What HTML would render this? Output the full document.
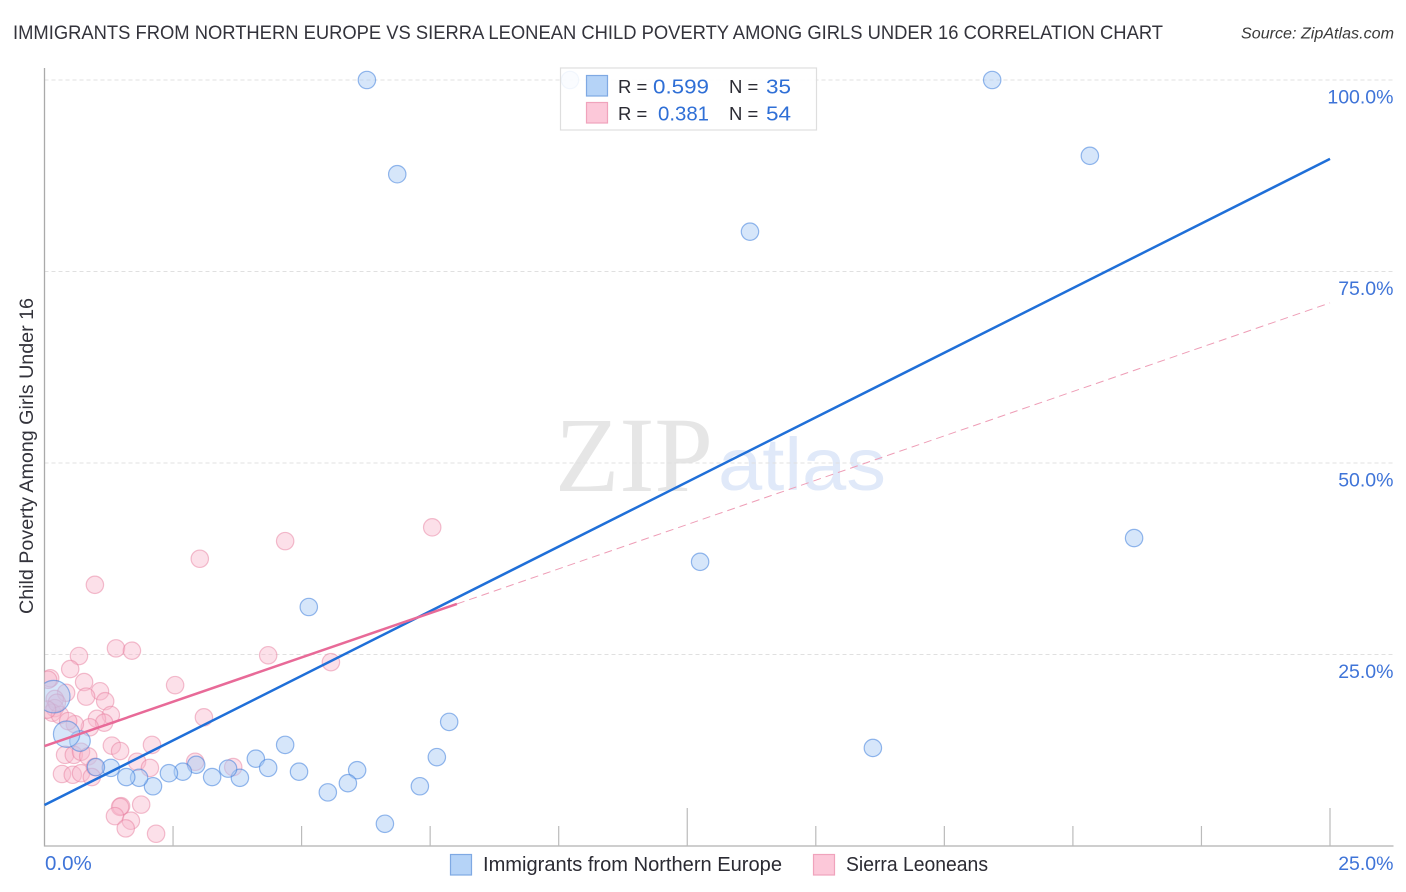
<!DOCTYPE html>
<html>
<head>
<meta charset="utf-8">
<title>Child Poverty Correlation Chart</title>
<style>
html,body{margin:0;padding:0;background:#fff;}
svg{display:block;font-family:"Liberation Sans",sans-serif;}
</style>
</head>
<body>
<svg id="chart" xmlns="http://www.w3.org/2000/svg" width="1406" height="892" viewBox="0 0 1406 892">
<defs><clipPath id="plot-clip"><rect x="44.5" y="60" width="1350" height="786"/></clipPath></defs>
<rect width="1406" height="892" fill="#fff"/>
<text x="13" y="39" font-size="19.5" fill="#33333b" textLength="1150" lengthAdjust="spacingAndGlyphs">IMMIGRANTS FROM NORTHERN EUROPE VS SIERRA LEONEAN CHILD POVERTY AMONG GIRLS UNDER 16 CORRELATION CHART</text>
<text x="1241" y="38.500" font-size="15.500" font-style="italic" fill="#3a3a3a" textLength="153" lengthAdjust="spacingAndGlyphs">Source: ZipAtlas.com</text>
<g>
<text x="555" y="491" font-family="'Liberation Serif',serif" font-size="107" fill="#e6e6e6" textLength="158" lengthAdjust="spacingAndGlyphs">ZIP</text>
<text x="718" y="490" font-family="'Liberation Sans',sans-serif" font-size="74" fill="#e0e9f9" textLength="168" lengthAdjust="spacingAndGlyphs">atlas</text>
</g>
<g id="grid"></g>
<g id="axes"></g>
<g id="pink-points" clip-path="url(#plot-clip)"></g>
<g id="blue-points" clip-path="url(#plot-clip)"></g>
<g id="trends"></g>
<g id="tick-labels"></g>
<text transform="translate(33,456) rotate(-90)" text-anchor="middle" font-size="19" fill="#33333b" textLength="316" lengthAdjust="spacingAndGlyphs">Child Poverty Among Girls Under 16</text>
<g>
<rect x="560.500" y="68" width="256" height="62" fill="#fff" fill-opacity="0.88" stroke="#dedede" stroke-width="1.200"/>
<rect x="586.500" y="75.500" width="21" height="20.500" fill="#b5d3f7" stroke="#7fa9e3" stroke-width="1.200"/>
<rect x="586.500" y="102.500" width="21" height="20.500" fill="#fcc8d9" stroke="#f0a3bc" stroke-width="1.200"/>
<g font-size="20">
<text x="618" y="93" fill="#2b2b33" font-size="18.500">R =</text>
<text x="653" y="93.500" fill="#2f6fd6" textLength="56" lengthAdjust="spacingAndGlyphs">0.599</text>
<text x="729" y="93" fill="#2b2b33" font-size="18.500">N =</text>
<text x="766" y="93.500" fill="#2f6fd6" textLength="25" lengthAdjust="spacingAndGlyphs">35</text>
<text x="618" y="120" fill="#2b2b33" font-size="18.500">R =</text>
<text x="658" y="120.500" fill="#2f6fd6" textLength="51" lengthAdjust="spacingAndGlyphs">0.381</text>
<text x="729" y="120" fill="#2b2b33" font-size="18.500">N =</text>
<text x="766" y="120.500" fill="#2f6fd6" textLength="25" lengthAdjust="spacingAndGlyphs">54</text>
</g>
</g>
<g>
<rect x="450.500" y="854.500" width="21" height="20.500" fill="#b5d3f7" stroke="#7fa9e3" stroke-width="1.200"/>
<text x="483" y="871" font-size="20" fill="#2b2b33" textLength="299" lengthAdjust="spacingAndGlyphs">Immigrants from Northern Europe</text>
<rect x="813.500" y="854.500" width="21" height="20.500" fill="#fcc8d9" stroke="#f0a3bc" stroke-width="1.200"/>
<text x="846" y="871" font-size="20" fill="#2b2b33" textLength="142" lengthAdjust="spacingAndGlyphs">Sierra Leoneans</text>
</g>
</svg>
<script>
const yTicks = [25, 50, 75, 100];
const yTickLabels = ["25.0%", "50.0%", "75.0%", "100.0%"];
const xMinorTicks = [2.5, 5, 7.5, 10, 15, 17.5, 20, 22.5];
const xMajorTicks = [12.5, 25];
const xEndLabels = ["0.0%", "25.0%"];

const blueX = [6.27,10.22,18.43,6.86,20.33,13.72,12.75,21.19,5.14,7.87,16.11,4.68,7.63,4.11,6.08,4.35,4.95,5.90,5.51,7.30,6.62,3.80,3.57,3.26,2.95,2.69,2.42,2.11,1.84,1.59,1.29,1.00,0.69,0.43,0.18];
const blueY = [100,100,100,87.7,90.1,80.2,37.1,40.2,31.2,16.2,12.8,13.2,11.6,11.4,9.9,10.2,9.7,8.2,7.0,7.8,2.9,8.9,10.1,9.0,10.6,9.7,9.5,7.8,8.9,9.0,10.2,10.3,13.7,14.6,19.5];
const blueWeight = [1,1,1,1,1,1,1,1,1,1,1,1,1,1,1,1,1,1,1,1,1,1,1,1,1,1,1,1,1,1,1,1,1.4,2.3,3.5];

const pinkX = [0.67,1.39,1.70,4.35,5.57,0.50,2.54,0.77,1.08,0.81,1.18,0.42,0.11,0.07,0.20,0.20,0.15,0.30,1.29,1.02,1.16,0.88,0.59,0.46,3.10,1.31,1.47,2.09,0.40,0.57,0.71,0.85,1.80,2.05,2.93,3.67,0.34,0.55,0.71,0.98,0.92,1.88,1.49,1.47,1.37,1.68,1.58,2.17,0.98,3.02,4.68,7.54,0.24,0.05];
const pinkY = [24.8,25.8,25.5,24.9,24.0,23.1,21.0,21.4,20.2,19.5,18.9,20.0,21.9,21.7,19.2,18.0,17.4,17.1,17.1,16.6,16.1,15.5,15.9,16.3,16.8,13.1,12.4,13.2,11.9,11.9,12.3,11.7,11.0,10.2,11.0,10.3,9.4,9.3,9.5,10.3,9.0,5.4,5.2,5.1,3.9,3.3,2.3,1.6,34.1,37.5,39.8,41.6,18.7,17.8];

const blueTrendX = [0, 25];
const blueTrendY = [5.35, 89.7];
const pinkSolidX = [0, 8.02];
const pinkSolidY = [13.05, 31.6];
const pinkDashX = [8.02, 25];
const pinkDashY = [31.6, 70.9];

const NS = "http://www.w3.org/2000/svg";
function xScale(v) { return 44.5 + v * (1330 - 44.5) / 25; }
function yScale(v) { return 846 - v * (846 - 80) / 100; }
function make(parent, tag, attrs) {
  const el = document.createElementNS(NS, tag);
  for (const k in attrs) el.setAttribute(k, attrs[k]);
  document.getElementById(parent).appendChild(el);
  return el;
}

yTicks.forEach(function (t) {
  const el = make("grid", "line", { x1: 44.5, x2: 1393, y1: yScale(t), y2: yScale(t), stroke: "#e0e0e0", "stroke-width": 1, "stroke-dasharray": "4 3" });
  
  
});

const yAxis = make("axes", "line", { x1: 44.5, x2: 44.5, y1: 68, y2: 846.5, stroke: "#aaa", "stroke-width": 1.3 });


const xAxis = make("axes", "line", { x1: 44, x2: 1393.5, y1: yScale(0), y2: yScale(0), stroke: "#b0b0b0", "stroke-width": 1.3 });



xMinorTicks.forEach(function (t) {
  const el = make("axes", "line", { x1: xScale(t), x2: xScale(t), y1: 826, y2: 846, stroke: "#bbb", "stroke-width": 1.2 });
  
  
});
xMajorTicks.forEach(function (t) {
  const el = make("axes", "line", { x1: xScale(t), x2: xScale(t), y1: 808, y2: 846, stroke: "#bbb", "stroke-width": 1.2 });
  
  
});

pinkX.forEach(function (v, i) {
  const el = make("pink-points", "circle", { cx: xScale(v), cy: yScale(pinkY[i]), r: 8.7, fill: "#f8b4ca", "fill-opacity": 0.42, stroke: "#e77f9f", "stroke-opacity": 0.5, "stroke-width": 1.2 });
  
  
});
blueX.forEach(function (v, i) {
  const el = make("blue-points", "circle", { cx: xScale(v), cy: yScale(blueY[i]), r: 8.7 * Math.sqrt(blueWeight[i]), fill: "#a9cbf5", "fill-opacity": 0.48, stroke: "#3f80dd", "stroke-opacity": 0.55, "stroke-width": 1.2 });
  
  
});

const pinkDash = make("trends", "line", { x1: xScale(pinkDashX[0]), y1: yScale(pinkDashY[0]), x2: xScale(pinkDashX[1]), y2: yScale(pinkDashY[1]), stroke: "#ee9db6", "stroke-width": 1, "stroke-dasharray": "8 5" });


const blueTrend = make("trends", "line", { x1: xScale(blueTrendX[0]), y1: yScale(blueTrendY[0]), x2: xScale(blueTrendX[1]), y2: yScale(blueTrendY[1]), stroke: "#1f6fd8", "stroke-width": 2.5 });


const pinkSolid = make("trends", "line", { x1: xScale(pinkSolidX[0]), y1: yScale(pinkSolidY[0]), x2: xScale(pinkSolidX[1]), y2: yScale(pinkSolidY[1]), stroke: "#e86a98", "stroke-width": 2.5 });



yTicks.forEach(function (t, i) {
  const el = make("tick-labels", "text", { x: 1393.5, y: yScale(t) + 23.5, "text-anchor": "end", "font-size": 19.5, fill: "#3f74d8" });
  el.textContent = yTickLabels[i];
  
  
});
const x0Label = make("tick-labels", "text", { x: 45, y: 870, "font-size": 20.5, fill: "#3f74d8" });
x0Label.textContent = xEndLabels[0];


const x1Label = make("tick-labels", "text", { x: 1393.5, y: 870, "text-anchor": "end", "font-size": 19.5, fill: "#3f74d8" });
x1Label.textContent = xEndLabels[1];


</script>
</body>
</html>
